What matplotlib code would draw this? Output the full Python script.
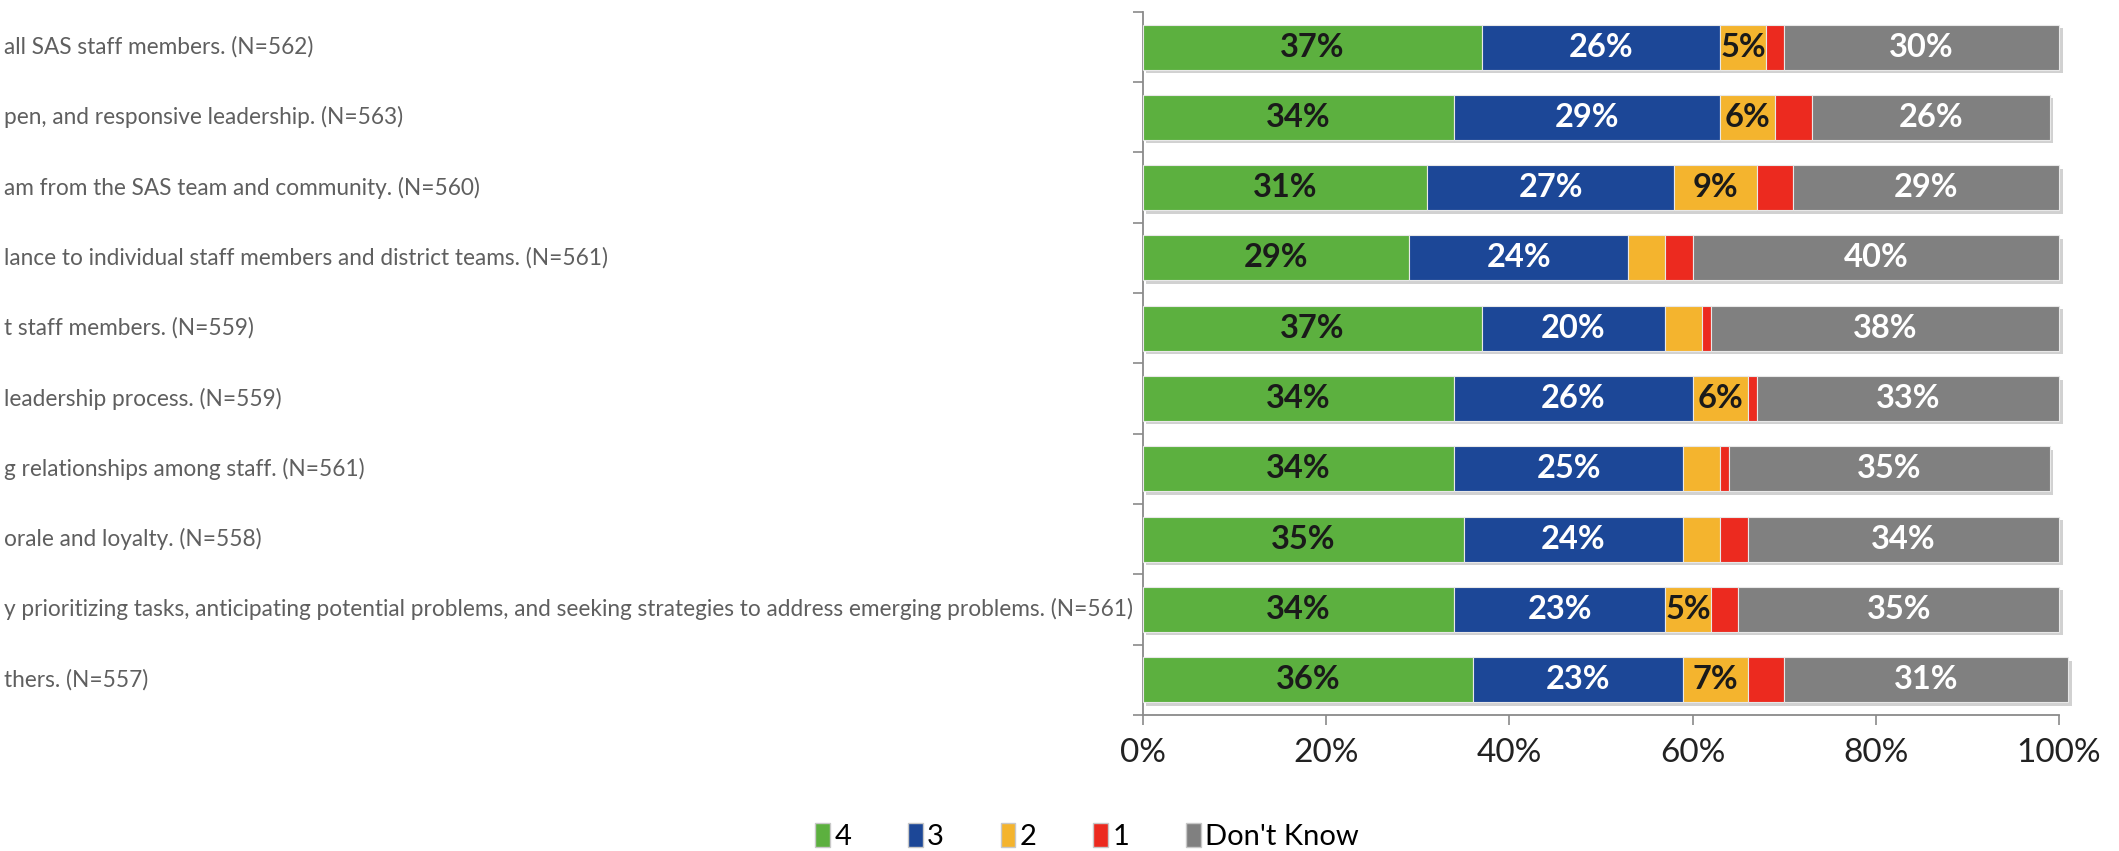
import numpy as np
import matplotlib
matplotlib.use("Agg")
import matplotlib.pyplot as plt
import matplotlib.patheffects as pe
import matplotlib.transforms as mtransforms
from matplotlib.patches import Patch

plt.rcParams['font.family'] = ['Lato', 'DejaVu Sans']

# visible (cropped) category labels, top to bottom
labels = [
    "all SAS staff members. (N=562)",
    "pen, and responsive leadership. (N=563)",
    "am from the SAS team and community. (N=560)",
    "lance to individual staff members and district teams. (N=561)",
    "t staff members. (N=559)",
    "leadership process. (N=559)",
    "g relationships among staff. (N=561)",
    "orale and loyalty. (N=558)",
    "y prioritizing tasks, anticipating potential problems, and seeking strategies to address emerging problems. (N=561)",
    "thers. (N=557)",
]

series_names = ["4", "3", "2", "1", "Don't Know"]
vals_4 = [37, 34, 31, 29, 37, 34, 34, 35, 34, 36]
vals_3 = [26, 29, 27, 24, 20, 26, 25, 24, 23, 23]
vals_2 = [5, 6, 9, 4, 4, 6, 4, 4, 5, 7]
vals_1 = [2, 4, 4, 3, 1, 1, 1, 3, 3, 4]
vals_dk = [30, 26, 29, 40, 38, 33, 35, 34, 35, 31]

colors = ["#5CB03F", "#1C4797", "#F4B42E", "#EC2A1F", "#808080"]
text_colors = ["#1a1a1a", "white", "#1a1a1a", "white", "white"]

fig = plt.figure(figsize=(21.19, 8.51), dpi=100)
ax = fig.add_axes([0.5394, 0.160, 0.4323, 0.826])

data = np.array([vals_4, vals_3, vals_2, vals_1, vals_dk], dtype=float)
y = np.arange(len(labels))
left = np.zeros(len(labels))

shadow = [pe.SimplePatchShadow(offset=(2.5, -2.5), shadow_rgbFace='#9a9a9a', alpha=0.45), pe.Normal()]

for i, name in enumerate(series_names):
    bars = ax.barh(y, data[i], left=left, height=0.64, color=colors[i],
                   edgecolor='#e8e8e8', linewidth=0.8, label=name, zorder=3)
    for b in bars:
        b.set_path_effects(shadow)
        b.set_clip_on(False)
    for yy, v, l in zip(y, data[i], left):
        if v >= 5:
            ax.text(l + v / 2, yy, f"{int(v)}%", ha='center', va='center',
                    fontsize=23.5, fontweight='bold', color=text_colors[i], zorder=5)
    left += data[i]

ax.set_xlim(0, 100)
ax.set_ylim(len(labels) - 0.5, -0.5)
ax.set_xticks(np.arange(0, 101, 20))
ax.set_xticklabels([f"{t}%" for t in range(0, 101, 20)], fontsize=24, color='#222222')
ax.set_yticks(np.arange(-0.5, len(labels), 1.0))
ax.set_yticklabels([])
ax.tick_params(axis='x', direction='out', length=7, width=1.2, color='#8a8a8a', pad=10)
ax.tick_params(axis='y', direction='out', length=7, width=1.2, color='#8a8a8a')

for s in ['top', 'right']:
    ax.spines[s].set_visible(False)
for s in ['left', 'bottom']:
    ax.spines[s].set_color('#8a8a8a')
    ax.spines[s].set_linewidth(1.3)
ax.spines['bottom'].set_path_effects([pe.SimplePatchShadow(offset=(1.5, -2), alpha=0.3), pe.Normal()])

trans = mtransforms.blended_transform_factory(fig.transFigure, ax.transData)
for yy, lab in zip(y, labels):
    ax.text(0.002, yy, lab, transform=trans, ha='left', va='center',
            fontsize=16.3, color='#5f5f5f', clip_on=False)

handles = [Patch(facecolor=c, edgecolor='#c8c8c8') for c in colors]
fig.legend(handles, series_names, loc='lower center', bbox_to_anchor=(0.513, -0.03),
           ncol=5, frameon=False, fontsize=21, handlelength=0.5, handleheight=0.9,
           handletextpad=0.15, columnspacing=1.95)

fig.savefig("out.png", dpi=100)
